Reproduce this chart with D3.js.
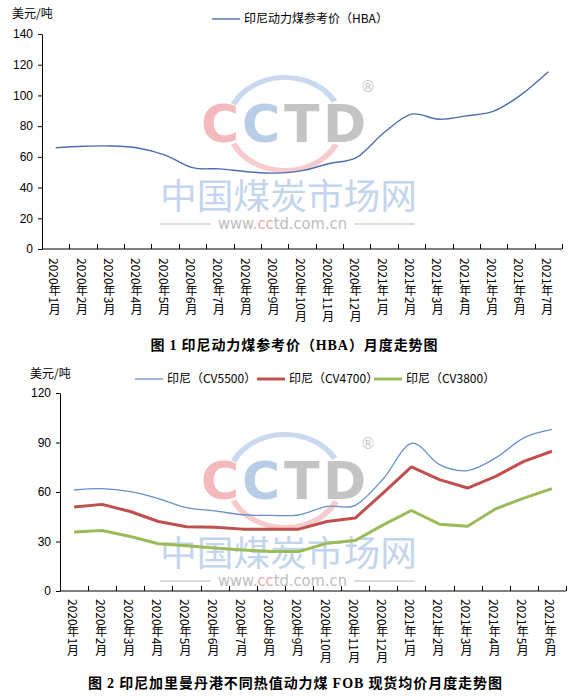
<!DOCTYPE html>
<html>
<head>
<meta charset="utf-8">
<script src="https://cdn.jsdelivr.net/npm/d3@7"></script>
<style>
    body { margin: 0; background: #fff; }
    text { font-family: "Noto Sans CJK SC", "Liberation Sans", sans-serif; }
</style>
</head>
<body>
<div id="chart"></div>
<script>
//=================== DATA ====================================
var months1 = ["2020年1月", "2020年2月", "2020年3月", "2020年4月", "2020年5月", "2020年6月",
    "2020年7月", "2020年8月", "2020年9月", "2020年10月", "2020年11月", "2020年12月",
    "2021年1月", "2021年2月", "2021年3月", "2021年4月", "2021年5月", "2021年6月", "2021年7月"];
var hbaValues = [65.93, 66.89, 67.08, 65.77, 61.11, 52.98, 52.16, 50.34, 49.42, 51.00,
    55.71, 59.65, 75.84, 87.79, 84.47, 86.68, 89.74, 100.33, 115.35];
var yTicks1 = [0, 20, 40, 60, 80, 100, 120, 140];

var months2 = ["2020年1月", "2020年2月", "2020年3月", "2020年4月", "2020年5月", "2020年6月",
    "2020年7月", "2020年8月", "2020年9月", "2020年10月", "2020年11月", "2020年12月",
    "2021年1月", "2021年2月", "2021年3月", "2021年4月", "2021年5月", "2021年6月"];
var cv5500 = [61.2, 62.0, 60.2, 56.0, 50.5, 48.6, 46.2, 45.8, 46.2, 51.3, 51.9, 68.0,
    89.5, 76.6, 73.0, 80.7, 92.8, 97.9];
var cv4700 = [50.9, 52.5, 48.2, 42.1, 38.9, 38.7, 37.5, 37.5, 37.5, 42.1, 44.2, 59.4,
    75.2, 67.5, 62.4, 69.5, 78.6, 84.7];
var cv3800 = [35.7, 36.7, 33.0, 28.6, 27.4, 26.0, 24.9, 23.9, 23.9, 29.0, 30.6, 40.1,
    48.8, 40.5, 39.3, 49.8, 56.3, 62.0];
var yTicks2 = [0, 30, 60, 90, 120];

//=================== SVG ====================================
var svg = d3.select("#chart")
    .append("svg")
    .attr("width", 574)
    .attr("height", 698);

svg.append("rect").attr("width", 574).attr("height", 698).attr("fill", "#fff");

// faint CCTD watermark, same for both charts (dy shifts it down)
function watermark(dy) {
    var g = svg.append("g").attr("transform", "translate(0," + dy + ")");

    var ring = d3.arc().innerRadius(44).outerRadius(49);
    var rg = g.append("g").attr("transform", "translate(285,124) scale(1.22,1)");
    rg.append("path")
        .attr("d", ring({ startAngle: -65 * Math.PI / 180, endAngle: 61 * Math.PI / 180 }))
        .attr("fill", "#c9d9ef");
    rg.append("path")
        .attr("d", ring({ startAngle: 116 * Math.PI / 180, endAngle: 245 * Math.PI / 180 }))
        .attr("fill", "#f7cacd");

    var letters = [["C", 201, "#f3b9bd"], ["C", 242, "#b9cde9"], ["T", 284, "#c4c4c4"], ["D", 323, "#c4c4c4"]];
    g.selectAll("text.logo")
        .data(letters)
        .enter()
        .append("text")
        .attr("class", "logo")
        .attr("x", function (d) { return d[1]; })
        .attr("y", 142)
        .style("font-family", "DejaVu Sans")
        .style("font-weight", "bold")
        .style("font-size", "52px")
        .attr("fill", function (d) { return d[2]; })
        .text(function (d) { return d[0]; });

    g.append("text").attr("x", 368).attr("y", 92)
        .style("font-family", "DejaVu Sans")
        .style("font-size", "15px").attr("text-anchor", "middle")
        .attr("fill", "#c8c8c8").text("®");

    g.append("text").attr("x", 160).attr("y", 197)
        .attr("dy", "0.35em")
        .attr("textLength", 257).attr("lengthAdjust", "spacingAndGlyphs")
        .style("font-size", "35px")
        .attr("fill", "#c3d5ec").text("中国煤炭市场网");

    var url = g.append("text").attr("x", 218).attr("y", 223)
        .attr("dy", "0.35em")
        .attr("textLength", 129).attr("lengthAdjust", "spacingAndGlyphs")
        .style("font-family", "DejaVu Sans")
        .style("font-size", "16px")
        .attr("fill", "#bdbdbd");
    url.append("tspan").text("www.");
    url.append("tspan").attr("fill", "#f2a6aa").text("cc");
    url.append("tspan").text("td.com.cn");

    g.append("line").attr("x1", 160).attr("x2", 211).attr("y1", 224).attr("y2", 224)
        .attr("stroke", "#d3d3d3").attr("stroke-width", 1.5);
    g.append("line").attr("x1", 354).attr("x2", 415).attr("y1", 224).attr("y2", 224)
        .attr("stroke", "#d3d3d3").attr("stroke-width", 1.5);
}

// generic line chart drawn into the shared svg
function lineChart(cfg) {
    var x = d3.scaleBand()
        .domain(cfg.months)
        .range([cfg.left, cfg.right]);
    var y = d3.scaleLinear()
        .domain([0, cfg.yMax])
        .range([cfg.bottom, cfg.top]);

    var grp = svg.append("g");

    //y axis
    var yAxis = d3.axisLeft(y)
        .tickValues(cfg.yTicks)
        .tickSize(4)
        .tickSizeOuter(0)
        .tickPadding(5);
    var ya = grp.append("g")
        .attr("transform", "translate(" + cfg.left + ",0)")
        .call(yAxis);
    ya.select(".domain").attr("stroke", "#000");
    ya.selectAll("text")
        .style("font-size", "12px")
        .style("font-family", "Liberation Sans, sans-serif")
        .attr("fill", "#000");

    //x axis: base line, inside ticks at category boundaries, vertical labels
    grp.append("line")
        .attr("x1", cfg.left).attr("x2", cfg.right)
        .attr("y1", cfg.bottom).attr("y2", cfg.bottom)
        .attr("stroke", "#000");

    var bounds = cfg.months.slice(1).map(function (m) { return x(m); }).concat([cfg.right]);
    grp.selectAll("line.xtick")
        .data(bounds)
        .enter()
        .append("line")
        .attr("class", "xtick")
        .attr("x1", function (d) { return Math.round(d) + 0.5; })
        .attr("x2", function (d) { return Math.round(d) + 0.5; })
        .attr("y1", cfg.bottom)
        .attr("y2", cfg.bottom - 5)
        .attr("stroke", "#000");

    grp.selectAll("text.xlabel")
        .data(cfg.months)
        .enter()
        .append("text")
        .attr("class", "xlabel")
        .attr("x", function (d) { return x(d) + x.bandwidth() / 2 - 1; })
        .attr("y", cfg.labelTop)
        .style("writing-mode", "vertical-rl")
        .style("font-size", "12px")
        .attr("fill", "#000")
        .text(function (d) { return d; });

    //unit label
    grp.append("text")
        .attr("x", cfg.unitX).attr("y", cfg.unitY)
        .attr("dy", "0.35em")
        .style("font-size", "12px")
        .text("美元/吨");

    //series
    cfg.series.forEach(function (s) {
        var line = d3.line()
            .x(function (d, i) { return x(cfg.months[i]) + x.bandwidth() / 2; })
            .y(function (d) { return y(d); })
            .curve(s.smooth ? d3.curveCardinal.tension(0) : d3.curveLinear);
        grp.append("path")
            .datum(s.values)
            .attr("d", line)
            .attr("fill", "none")
            .attr("stroke", s.color)
            .attr("stroke-width", s.width)
            .attr("stroke-linejoin", "round");

        grp.append("line")
            .attr("x1", s.legendX).attr("x2", s.legendX + 28)
            .attr("y1", cfg.legendY).attr("y2", cfg.legendY)
            .attr("stroke", s.color)
            .attr("stroke-width", s.width);
        grp.append("text")
            .attr("x", s.legendX + 32)
            .attr("y", cfg.legendY)
            .attr("dy", "0.35em")
            .style("font-size", "12px")
            .text(s.name);
    });

    //title
    var t = grp.append("text")
        .attr("x", cfg.titleX).attr("y", cfg.titleY)
        .attr("dy", "0.35em")
        .attr("text-anchor", "middle")
        .attr("textLength", cfg.titleWidth)
        .attr("lengthAdjust", "spacing")
        .style("font-size", "14px")
        .style("font-weight", "bold");
    cfg.title.forEach(function (part) {
        var ts = t.append("tspan").text(part[0]);
        if (part[1]) ts.style("font-family", "Liberation Serif, serif");
    });
}

watermark(0);
watermark(357);

lineChart({
    months: months1, yMax: 140, yTicks: yTicks1,
    left: 42, right: 562, top: 34, bottom: 249, labelTop: 258,
    unitX: 12, unitY: 14, legendY: 19,
    series: [
        { name: "印尼动力煤参考价（HBA）", values: hbaValues, color: "#4a6fb0", width: 1.4, smooth: true, legendX: 212 }
    ],
    titleX: 294, titleY: 345, titleWidth: 287,
    title: [["图 ", false], ["1", true], ["  印尼动力煤参考价（", false], ["HBA", true], ["）月度走势图", false]]
});

lineChart({
    months: months2, yMax: 120, yTicks: yTicks2,
    left: 60, right: 566, top: 393, bottom: 591, labelTop: 599,
    unitX: 30, unitY: 374, legendY: 379,
    series: [
        { name: "印尼（CV5500）", values: cv5500, color: "#6690c9", width: 1.3, smooth: true, legendX: 135 },
        { name: "印尼（CV4700）", values: cv4700, color: "#c0504d", width: 3, smooth: false, legendX: 257 },
        { name: "印尼（CV3800）", values: cv3800, color: "#9bbb59", width: 3, smooth: false, legendX: 374 }
    ],
    titleX: 295, titleY: 683, titleWidth: 414,
    title: [["图 ", false], ["2", true], ["  印尼加里曼丹港不同热值动力煤 ", false], ["FOB", true], [" 现货均价月度走势图", false]]
});
</script>
</body>
</html>
